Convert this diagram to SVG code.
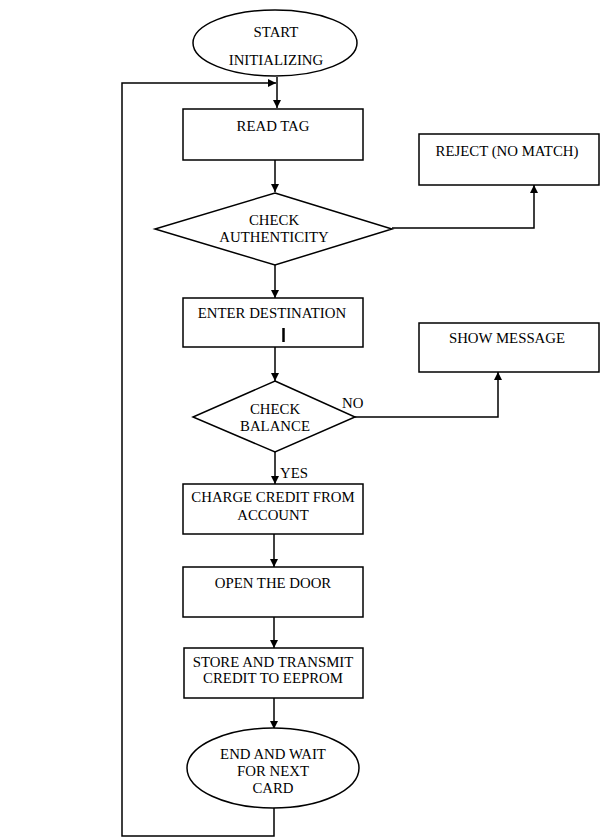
<svg xmlns="http://www.w3.org/2000/svg" width="602" height="839" viewBox="0 0 602 839">
<defs>
<style>
.s{fill:#fff;stroke:#000;stroke-width:1.5}
.t{font-family:"Liberation Serif","Times New Roman",serif;font-size:14.8px;fill:#000;text-anchor:middle}
.l{font-family:"Liberation Serif","Times New Roman",serif;font-size:14.8px;fill:#000}
.c{fill:none;stroke:#000;stroke-width:1.5}
</style>
<marker id="a" viewBox="0 0 10 10" refX="10" refY="5" markerWidth="8" markerHeight="8" markerUnits="userSpaceOnUse" orient="auto">
<path d="M0,0 L10,5 L0,10 Z" fill="#000"/>
</marker>
</defs>
<rect width="602" height="839" fill="#fff"/>
<g id="connectors">
<line class="c" x1="277" y1="77" x2="277" y2="108" marker-end="url(#a)"/>
<line class="c" x1="275" y1="160" x2="275" y2="192" marker-end="url(#a)"/>
<line class="c" x1="275" y1="265" x2="275" y2="298" marker-end="url(#a)"/>
<polyline class="c" points="392,228 534,228 534,185" marker-end="url(#a)"/>
<line class="c" x1="275" y1="347" x2="275" y2="381" marker-end="url(#a)"/>
<polyline class="c" points="355,417 498,417 498,372" marker-end="url(#a)"/>
<line class="c" x1="275" y1="452" x2="275" y2="484" marker-end="url(#a)"/>
<line class="c" x1="274" y1="534" x2="274" y2="567" marker-end="url(#a)"/>
<line class="c" x1="274" y1="617" x2="274" y2="648" marker-end="url(#a)"/>
<line class="c" x1="274" y1="698" x2="274" y2="729" marker-end="url(#a)"/>
<polyline class="c" points="274,808 274,836 122,836 122,83 276,83" marker-end="url(#a)"/>
<text class="l" x="342" y="408">NO</text>
<text class="l" x="280" y="478">YES</text>
</g>
<g id="start">
<ellipse class="s" cx="275" cy="43" rx="82" ry="33"/>
<text class="t" x="276" y="37">START</text>
<text class="t" x="276" y="65">INITIALIZING</text>
</g>
<g id="read-tag">
<rect class="s" x="183" y="109" width="180" height="51"/>
<text class="t" x="273" y="131">READ TAG</text>
</g>
<g id="check-authenticity">
<polygon class="s" points="275,193 392,229 275,265 155,229"/>
<text class="t" x="274" y="225">CHECK</text>
<text class="t" x="274" y="242">AUTHENTICITY</text>
</g>
<g id="reject">
<rect class="s" x="419" y="134" width="180" height="51"/>
<text class="t" x="507" y="156">REJECT (NO MATCH)</text>
</g>
<g id="enter-destination">
<rect class="s" x="183" y="298" width="180" height="49"/>
<text class="t" x="272" y="318">ENTER DESTINATION</text>
<line x1="283.5" y1="328" x2="283.5" y2="342" stroke="#000" stroke-width="2.5"/>
</g>
<g id="show-message">
<rect class="s" x="419" y="323" width="180" height="49"/>
<text class="t" x="507" y="343">SHOW MESSAGE</text>
</g>
<g id="check-balance">
<polygon class="s" points="275,381 355,417 275,452 193,417"/>
<text class="t" x="275" y="414">CHECK</text>
<text class="t" x="275" y="431">BALANCE</text>
</g>
<g id="charge">
<rect class="s" x="183" y="484" width="180" height="50"/>
<text class="t" x="273" y="502">CHARGE CREDIT FROM</text>
<text class="t" x="273" y="520">ACCOUNT</text>
</g>
<g id="open-door">
<rect class="s" x="183" y="567" width="180" height="50"/>
<text class="t" x="273" y="588">OPEN THE DOOR</text>
</g>
<g id="store">
<rect class="s" x="184" y="648" width="179" height="50"/>
<text class="t" x="273" y="667">STORE AND TRANSMIT</text>
<text class="t" x="273" y="683">CREDIT TO EEPROM</text>
</g>
<g id="end">
<ellipse class="s" cx="273" cy="768" rx="86" ry="40"/>
<text class="t" x="273" y="759">END AND WAIT</text>
<text class="t" x="273" y="776">FOR NEXT</text>
<text class="t" x="273" y="793">CARD</text>
</g>
</svg>
